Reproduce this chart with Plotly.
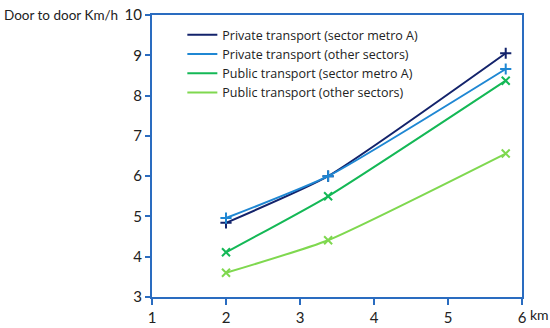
import plotly.graph_objects as go

distance_km = [2.0, 3.38, 5.78]
private_metro_a = [4.84, 6.0, 9.05]
private_other = [4.96, 6.0, 8.66]
public_metro_a = [4.11, 5.5, 8.37]
public_other = [3.6, 4.41, 6.56]

series_names = ["Private transport (sector metro A)", "Private transport (other sectors)",
                "Public transport (sector metro A)", "Public transport (other sectors)"]
series_values = [private_metro_a, private_other, public_metro_a, public_other]
colors = ["#13236b", "#1f87d3", "#14b856", "#7fd84f"]
symbols = ["cross-thin", "cross-thin", "x-thin", "x-thin"]

x_ticks = [1, 2, 3, 4, 5, 6]
x_tick_labels = ["1", "2", "3", "4", "5", "6"]
y_ticks = [3, 4, 5, 6, 7, 8, 9, 10]

FONT = "Lato, Open Sans, sans-serif"
AXIS_COLOR = "#2a6cc0"

fig = go.Figure()
for name, vals, c, s in zip(series_names, series_values, colors, symbols):
    fig.add_trace(go.Scatter(
        x=distance_km, y=vals, mode="lines+markers", showlegend=False,
        line=dict(color=c, width=2, shape="spline", smoothing=0.5),
        marker=dict(symbol=s, size=8, line=dict(color=c, width=2), color=c),
        name=name,
    ))
for name, c in zip(series_names, colors):
    fig.add_trace(go.Scatter(
        x=[None], y=[None], mode="lines", name=name,
        line=dict(color=c, width=2),
    ))

fig.update_layout(
    width=550, height=328,
    margin=dict(l=152, r=28, t=15, b=31),
    paper_bgcolor="white", plot_bgcolor="white",
    font=dict(family=FONT, size=15, color="#222222"),
    legend=dict(x=0.082, y=0.982, xanchor="left", yanchor="top",
                bgcolor="rgba(0,0,0,0)", font=dict(family="Open Sans", size=12.5),
                tracegroupgap=0, itemwidth=30),
    xaxis=dict(range=[1, 6], tickvals=x_ticks, ticktext=x_tick_labels,
               showgrid=False, zeroline=False, showline=True, linecolor=AXIS_COLOR,
               linewidth=2, mirror=True, ticks="outside", tickcolor=AXIS_COLOR,
               ticklen=6, tickwidth=2, automargin=False, ticklabeloverflow="allow"),
    yaxis=dict(range=[3, 10], tickvals=y_ticks,
               showgrid=False, zeroline=False, showline=True, linecolor=AXIS_COLOR,
               linewidth=2, mirror=True, ticks="outside", tickcolor=AXIS_COLOR,
               ticklen=5, tickwidth=2, automargin=False, ticklabeloverflow="allow"),
    annotations=[
        dict(text="Door to door Km/h", xref="paper", yref="paper",
             x=-0.0865, y=1.0, xanchor="right", yanchor="middle",
             showarrow=False, font=dict(size=13.5)),
        dict(text="km", xref="paper", yref="paper",
             x=1.0, y=0, xanchor="left", yanchor="top", xshift=6, yshift=-7,
             showarrow=False, font=dict(size=14)),
    ],
)

fig.write_html("out.html", config={"displayModeBar": False},
               post_script="document.body.style.margin='0';document.body.style.overflow='hidden';")
